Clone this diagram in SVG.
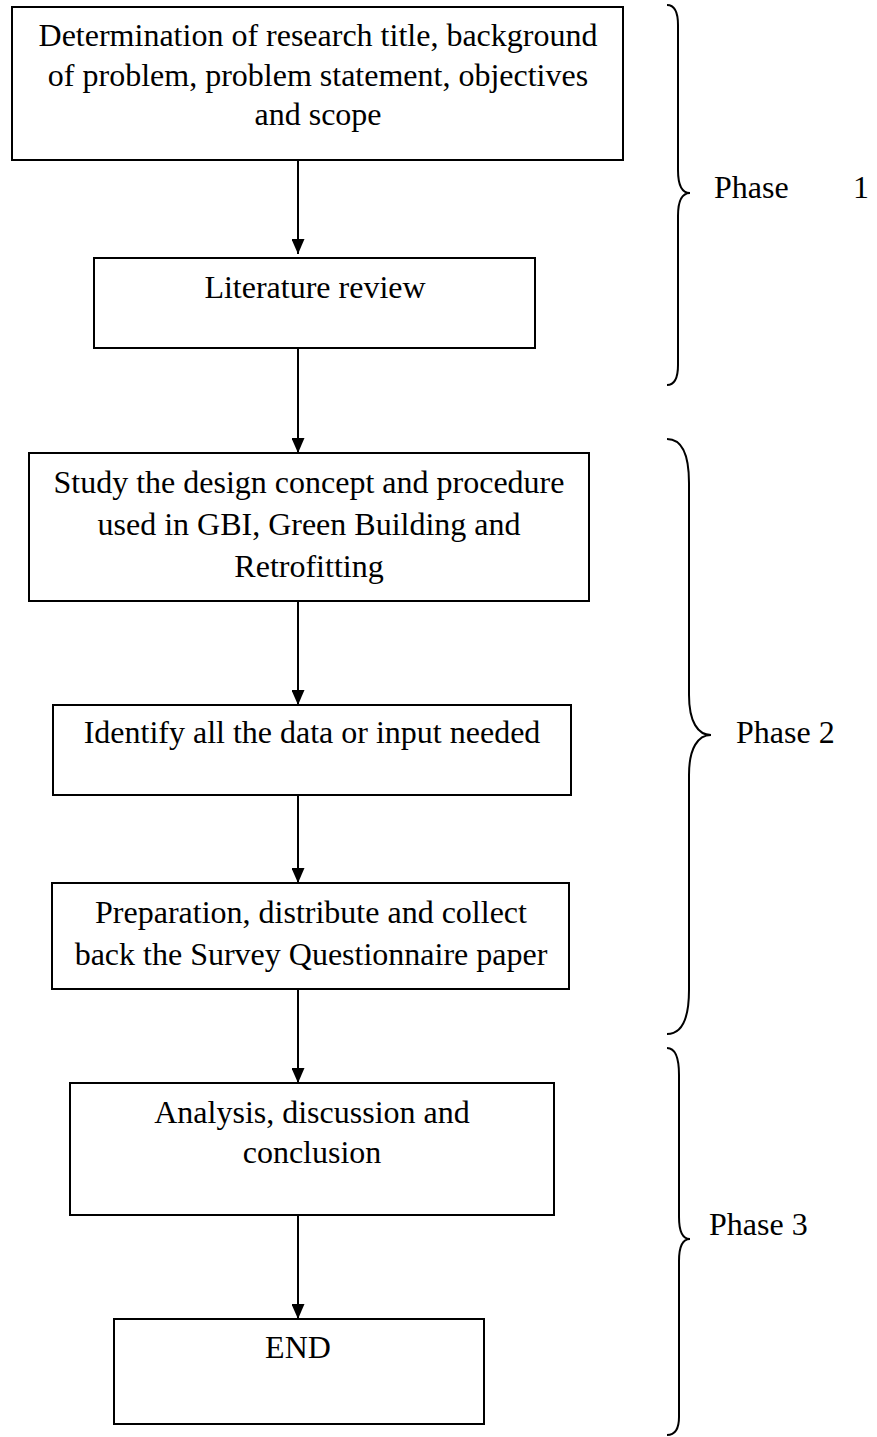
<svg xmlns="http://www.w3.org/2000/svg" width="877" height="1437" viewBox="0 0 877 1437">
<style>
.box{fill:#fff;stroke:#000;stroke-width:2}
.t{font-family:"Liberation Serif","Times New Roman",serif;font-size:32px;fill:#000;text-anchor:middle}
.p{font-family:"Liberation Serif","Times New Roman",serif;font-size:32px;fill:#000}
.c{stroke:#000;stroke-width:2;fill:none}
.br{stroke:#000;stroke-width:2;fill:none}
</style>
<defs>
<marker id="ah" markerWidth="15" markerHeight="13" refX="15" refY="6.5" orient="auto" markerUnits="userSpaceOnUse" viewBox="0 0 15 13">
<path d="M0,0 L15,6.5 L0,13 Z" fill="#000"/>
</marker>
</defs>
<rect width="877" height="1437" fill="#fff"/>
<g id="connectors">
<line class="c" x1="298" y1="160" x2="298" y2="254" marker-end="url(#ah)"/>
<line class="c" x1="298" y1="348" x2="298" y2="453" marker-end="url(#ah)"/>
<line class="c" x1="298" y1="601" x2="298" y2="705" marker-end="url(#ah)"/>
<line class="c" x1="298" y1="795" x2="298" y2="883" marker-end="url(#ah)"/>
<line class="c" x1="298" y1="989" x2="298" y2="1083" marker-end="url(#ah)"/>
<line class="c" x1="298" y1="1215" x2="298" y2="1319" marker-end="url(#ah)"/>
</g>
<g id="n1">
<rect class="box" x="12" y="7" width="611" height="153"/>
<text class="t" x="318" y="46">Determination of research title, background</text>
<text class="t" x="318" y="86">of problem, problem statement, objectives</text>
<text class="t" x="318" y="125">and scope</text>
</g>
<g id="n2">
<rect class="box" x="94" y="258" width="441" height="90"/>
<text class="t" x="315" y="298">Literature review</text>
</g>
<g id="n3">
<rect class="box" x="29" y="453" width="560" height="148"/>
<text class="t" x="309" y="493">Study the design concept and procedure</text>
<text class="t" x="309" y="535">used in GBI, Green Building and</text>
<text class="t" x="309" y="577">Retrofitting</text>
</g>
<g id="n4">
<rect class="box" x="53" y="705" width="518" height="90"/>
<text class="t" x="312" y="743">Identify all the data or input needed</text>
</g>
<g id="n5">
<rect class="box" x="52" y="883" width="517" height="106"/>
<text class="t" x="311" y="923">Preparation, distribute and collect</text>
<text class="t" x="311" y="965">back the Survey Questionnaire paper</text>
</g>
<g id="n6">
<rect class="box" x="70" y="1083" width="484" height="132"/>
<text class="t" x="312" y="1123">Analysis, discussion and</text>
<text class="t" x="312" y="1163">conclusion</text>
</g>
<g id="n7">
<rect class="box" x="114" y="1319" width="370" height="105"/>
<text class="t" x="298" y="1358">END</text>
</g>
<g id="phase1">
<path class="br" d="M667,5 C675,5 678,12 678,25 L678,170 C678,185 682,193 690,193 C682,193 678,201 678,216 L678,365 C678,378 675,385 667,385"/>
<text class="p" x="714" y="198">Phase</text>
<text class="p" x="853" y="198">1</text>
</g>
<g id="phase2">
<path class="br" d="M667,439 C682,439 689,453 689,483 L689,695 C689,722 698,735 711,735 C698,735 689,748 689,775 L689,990 C689,1020 682,1034 667,1034"/>
<text class="p" x="736" y="743">Phase 2</text>
</g>
<g id="phase3">
<path class="br" d="M667,1048 C675,1048 679,1058 679,1075 L679,1217 C679,1231 683,1239 690,1239 C683,1239 679,1247 679,1261 L679,1417 C679,1429 675,1435 667,1435"/>
<text class="p" x="709" y="1235">Phase 3</text>
</g>
</svg>
